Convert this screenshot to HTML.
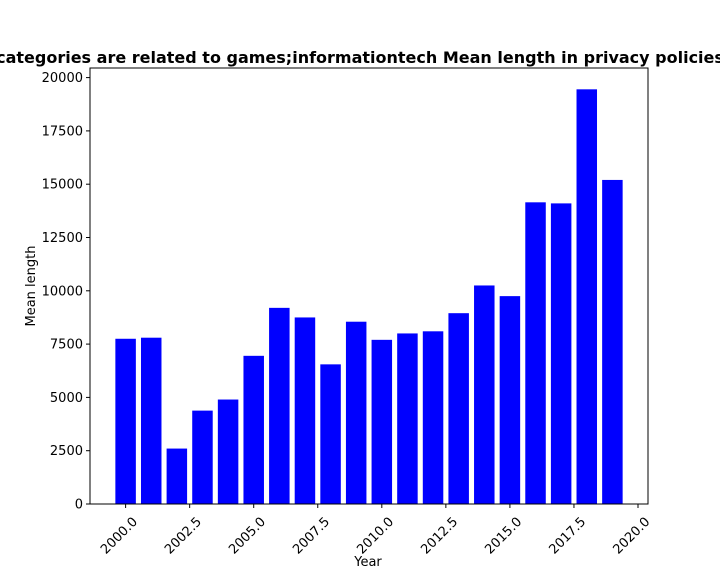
<!DOCTYPE html>
<html><head><meta charset="utf-8"><style>
body{margin:0;background:#fff;}
svg text{font-family:"DejaVu Sans","Liberation Sans",sans-serif;}
</style></head><body>
<svg id="chart" width="720" height="576">
<text x="360" y="63" text-anchor="middle" font-size="16" font-weight="bold">categories are related to games;informationtech Mean length in privacy policies</text>
<g id="bars"></g>
<rect x="90" y="68" width="558" height="436" fill="none" stroke="#000" stroke-width="1"/>
<g id="axes"></g>
<text x="368" y="566" text-anchor="middle" font-size="13">Year</text>
<text transform="translate(35,286) rotate(-90)" text-anchor="middle" font-size="13">Mean length</text>
</svg>
<script>
const years=[2000,2001,2002,2003,2004,2005,2006,2007,2008,2009,2010,2011,2012,2013,2014,2015,2016,2017,2018,2019];
const values=[7750,7800,2600,4380,4900,6950,9200,8750,6550,8550,7700,8000,8100,8950,10250,9750,14150,14100,19450,15200];
const yTicks=[0,2500,5000,7500,10000,12500,15000,17500,20000];
const xTicks=[2000,2002.5,2005,2007.5,2010,2012.5,2015,2017.5,2020];
const L=90,R=648,T=68,B=504,x0=1998.61,x1=2020.39,yMax=20450;
const sx=v=>L+(v-x0)/(x1-x0)*(R-L);
const sy=v=>B-v/yMax*(B-T);
const ns="http://www.w3.org/2000/svg";
const bars=document.getElementById('bars'),axes=document.getElementById('axes');
years.forEach((y,i)=>{
 const r=document.createElementNS(ns,'rect');
 const w=sx(y+0.4)-sx(y-0.4);
 r.setAttribute('x',sx(y-0.4));r.setAttribute('y',sy(values[i]));
 r.setAttribute('width',w);r.setAttribute('height',B-sy(values[i]));
 r.setAttribute('fill','#0000ff');
 
 
 bars.appendChild(r);
});
yTicks.forEach(t=>{
 const y=sy(t);
 const l=document.createElementNS(ns,'line');
 l.setAttribute('x1',L-4);l.setAttribute('x2',L);l.setAttribute('y1',y);l.setAttribute('y2',y);l.setAttribute('stroke','#000');
 
 
 axes.appendChild(l);
 const tx=document.createElementNS(ns,'text');
 tx.setAttribute('x',L-7);tx.setAttribute('y',y+4.5);tx.setAttribute('text-anchor','end');tx.setAttribute('font-size','13');
 tx.textContent=t;
 
 
 axes.appendChild(tx);
});
xTicks.forEach(t=>{
 const x=sx(t);
 const l=document.createElementNS(ns,'line');
 l.setAttribute('x1',x);l.setAttribute('x2',x);l.setAttribute('y1',B);l.setAttribute('y2',B+4);l.setAttribute('stroke','#000');
 
 
 axes.appendChild(l);
 const tx=document.createElementNS(ns,'text');
 tx.setAttribute('transform',`translate(${x+6},${B+12}) rotate(-45)`);
 tx.setAttribute('text-anchor','end');tx.setAttribute('font-size','13');tx.setAttribute('dy','0.7em');
 tx.textContent=t.toFixed(1);
 
 
 axes.appendChild(tx);
});
</script>
</body></html>
